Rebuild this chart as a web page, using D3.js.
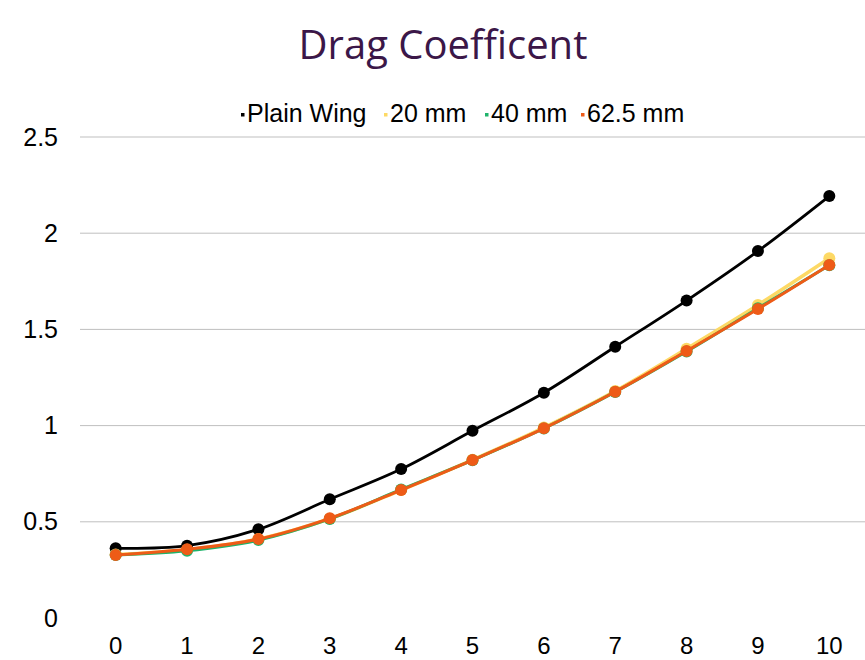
<!DOCTYPE html>
<html>
<head>
<meta charset="utf-8">
<script src="https://cdn.jsdelivr.net/npm/d3@7/dist/d3.min.js"></script>
<style>
  body { margin: 0; background: #fff; }
  svg text { font-family: "Liberation Sans", Arial, sans-serif; }
</style>
</head>
<body>
<svg id="chart" width="865" height="660"></svg>
<script>
// Data
const categories = [0, 1, 2, 3, 4, 5, 6, 7, 8, 9, 10];
const plainWing = [0.362, 0.376, 0.461, 0.617, 0.774, 0.973, 1.171, 1.41, 1.65, 1.907, 2.193];
const mm20 = [0.330, 0.355, 0.410, 0.516, 0.665, 0.822, 0.990, 1.180, 1.400, 1.627, 1.870];
const mm40 = [0.328, 0.350, 0.405, 0.515, 0.668, 0.820, 0.985, 1.175, 1.385, 1.610, 1.833];
const mm625 = [0.327, 0.357, 0.410, 0.518, 0.665, 0.821, 0.986, 1.176, 1.388, 1.606, 1.835];
const yTicks = [0, 0.5, 1, 1.5, 2, 2.5];

const series = [
  { name: 'Plain Wing', values: plainWing, color: '#000000', width: 2.8 },
  { name: '20 mm', values: mm20, color: '#FDD965', width: 3.5 },
  { name: '40 mm', values: mm40, color: '#1FB36B', width: 3 },
  { name: '62.5 mm', values: mm625, color: '#EE5B17', width: 3 }
];

const svg = d3.select('#chart');
const plotLeft = 80, plotRight = 865, plotTop = 137, plotBottom = 618;

const x = d3.scaleBand().domain(categories).range([plotLeft, plotRight]);
const y = d3.scaleLinear().domain([0, 2.5]).range([plotBottom, plotTop]);
const cx = d => x(d) + x.bandwidth() / 2;

// title
svg.append('text')
  .attr('x', 443).attr('y', 59)
  .attr('text-anchor', 'middle')
  .style('font-family', '"Open Sans", sans-serif')
  .style('font-size', '40px')
  .style('fill', '#3B1748')
  .text('Drag Coefficent');

// gridlines (no line at 0)
svg.append('g')
  .selectAll('line')
  .data(yTicks.filter(t => t > 0))
  .enter()
  .append('line')
  .attr('x1', plotLeft).attr('x2', plotRight)
  .attr('y1', d => y(d)).attr('y2', d => y(d))
  .attr('stroke', '#bfbfbf')
  .attr('stroke-width', 1);

// y axis labels
const yAxis = svg.append('g')
  .attr('transform', `translate(${plotLeft - 22},0)`)
  .call(d3.axisLeft(y).tickValues(yTicks).tickSize(0).tickPadding(0).tickFormat(d3.format('')));
yAxis.select('.domain').remove();
yAxis.selectAll('text').style('font-size', '25px').style('fill', '#000')
  .style('font-family', '"Liberation Sans", Arial, sans-serif');

// x axis labels
const xAxis = svg.append('g')
  .attr('transform', `translate(0,${plotBottom + 19})`)
  .call(d3.axisBottom(x).tickSize(0).tickPadding(0));
xAxis.select('.domain').remove();
xAxis.selectAll('text').style('font-size', '24px').style('fill', '#000')
  .style('font-family', '"Liberation Sans", Arial, sans-serif');

const line = d3.line()
  .x((d, i) => cx(categories[i]))
  .y(d => y(d))
  .curve(d3.curveCatmullRom.alpha(0));

series.forEach(s => {
  const g = svg.append('g');
  g.append('path')
    .attr('d', line(s.values))
    .attr('fill', 'none')
    .attr('stroke', s.color)
    .attr('stroke-width', s.width)
    .attr('stroke-linejoin', 'round');
  g.selectAll('circle')
    .data(s.values)
    .enter()
    .append('circle')
    .attr('cx', (d, i) => cx(categories[i]))
    .attr('cy', d => y(d))
    .attr('r', 6)
    .attr('fill', s.color);
});

// legend
const legendPos = [241, 384, 485, 581];
const legend = svg.append('g');
series.forEach((s, i) => {
  legend.append('rect')
    .attr('x', legendPos[i]).attr('y', 113)
    .attr('width', 3.5).attr('height', 3.5)
    .attr('fill', s.color);
  legend.append('text')
    .attr('x', legendPos[i] + 6).attr('y', 122)
    .style('font-size', '25px')
    .style('fill', '#000')
    .text(s.name);
});
</script>
</body>
</html>
